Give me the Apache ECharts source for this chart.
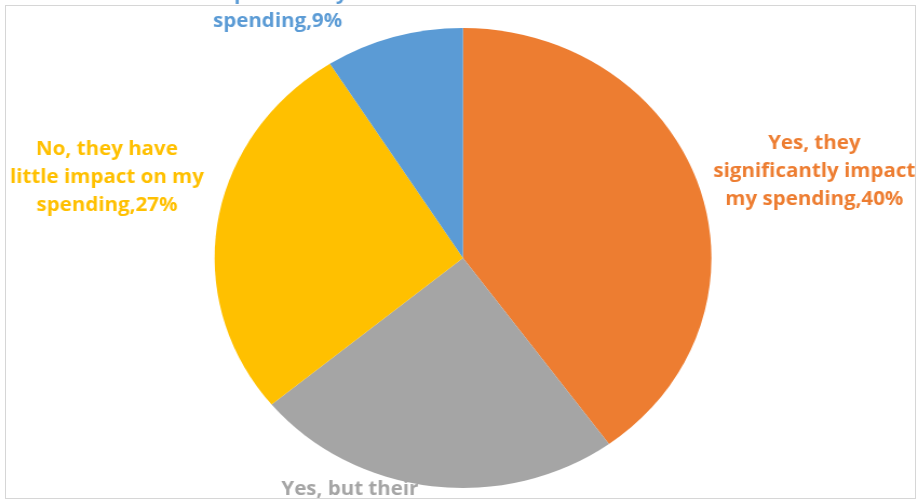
<!DOCTYPE html>
<html>
<head>
<meta charset="utf-8">
<script src="https://cdn.jsdelivr.net/npm/echarts@6/dist/echarts.min.js"></script>
<style>
  html, body { margin: 0; padding: 0; background: #ffffff; }
  #wrap { position: relative; width: 919px; height: 504px; overflow: hidden; background: #fff; }
  #frame { position: absolute; left: 5px; top: 5px; width: 911px; height: 494px;
           border: 1px solid #d6d6d6; box-sizing: border-box; pointer-events: none; }
  /* the chart is drawn slightly wider than tall */
  #chart { position: absolute; left: 0; top: 0; width: 851px; height: 504px;
           transform: scaleX(1.08); transform-origin: 0 0; }
</style>
</head>
<body>
<div id="wrap">
  <div id="chart"></div>
  <div id="frame"></div>
</div>
<script>
// Survey answers (clockwise from 12 o'clock)
const categories = [
  'Yes, they significantly impact my spending',
  'Yes, but their impact is limited',
  'No, they have little impact on my spending',
  'No, they have no impact on my spending'
];
// Label text as wrapped in the chart
const labelText = [
  'Yes, they\nsignificantly impact\nmy spending',
  'Yes, but their\nimpact is limited',
  'No, they have\nlittle impact on my\nspending',
  'No, they have no\nimpact on my\nspending'
];
const shares = [40, 24, 27, 9];
const colors = ['#ED7D31', '#A5A5A5', '#FFC000', '#5B9BD5'];

// Label anchor points (centre of each text block), chart pixels
const labelAnchors = [
  [754, 172],
  [324, 504],
  [99, 178],
  [257, -6]
];

const chart = echarts.init(document.getElementById('chart'), null, { renderer: 'canvas' });

const data = categories.map((name, i) => ({
  name: name,
  value: shares[i],
  itemStyle: { color: colors[i] },
  label: {
    color: colors[i],
    formatter: labelText[i] + ',' + shares[i] + '%'
  }
}));

chart.setOption({
  animation: false,
  backgroundColor: 'transparent',
  series: [{
    type: 'pie',
    center: [428.7, 258],
    radius: 230,
    startAngle: 90,
    clockwise: true,
    avoidLabelOverlap: false,
    data: data,
    itemStyle: { borderWidth: 0 },
    emphasis: { disabled: true },
    label: {
      show: true,
      position: 'outside',
      fontFamily: '"Open Sans", sans-serif',
      fontWeight: 'bold',
      fontSize: 19,
      lineHeight: 28,
      align: 'center'
    },
    labelLine: { show: false },
    labelLayout: function (params) {
      const p = labelAnchors[params.dataIndex];
      return { x: p[0], y: p[1], align: 'center', verticalAlign: 'middle' };
    }
  }]
});
</script>
</body>
</html>
